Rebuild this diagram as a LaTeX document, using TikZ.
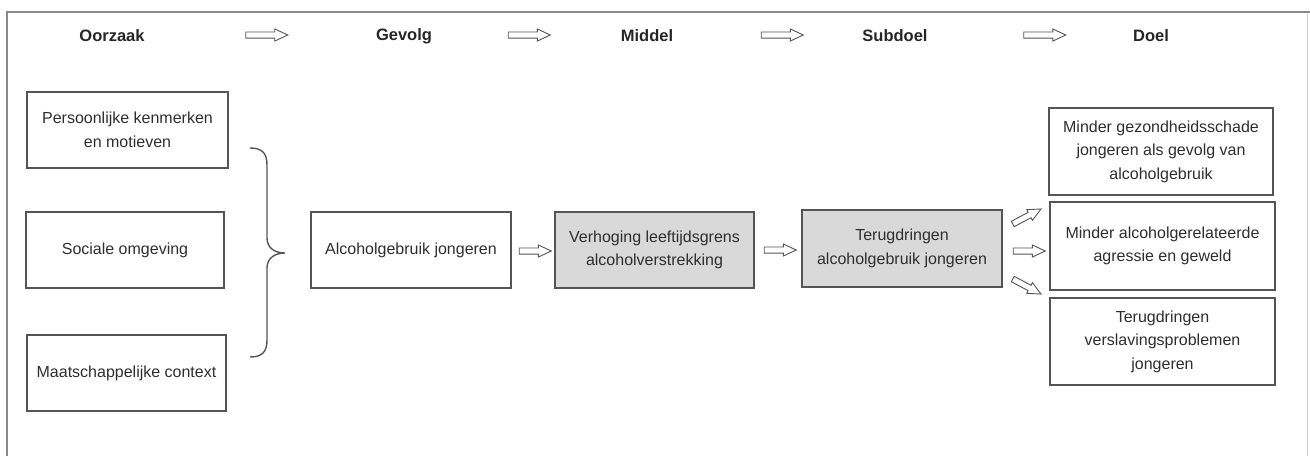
\documentclass[tikz,border=0pt]{standalone}
\usepackage{fontspec}
\setmainfont{Liberation Sans}
\usetikzlibrary{shapes.arrows}
\definecolor{edgec}{HTML}{555555}
\definecolor{fillg}{HTML}{D9D9D9}
\definecolor{txtc}{HTML}{2E2E2E}
\definecolor{framec}{HTML}{8A8A8A}
\tikzset{
  box/.style={draw=edgec, line width=1.4pt, inner sep=0pt, align=center, text=txtc,
    font=\fontsize{16}{23.5}\selectfont},
  graybox/.style={box, fill=fillg},
  header/.style={font=\bfseries\fontsize{16.5}{20}\selectfont, text=black!85, inner sep=0pt},
  blockarrow/.style={single arrow, draw=edgec, fill=white, line width=0.9pt,
    text height=0pt, text depth=0pt, inner xsep=0pt, inner ysep=2.6pt,
    minimum height=#1, single arrow head extend=3pt,
    single arrow tip angle=50},
  blockarrow/.default=42pt,
  bracec/.style={draw=edgec, line width=1.4pt},
}
\begin{document}
\begin{tikzpicture}[x=1pt,y=-1pt]
\useasboundingbox (0,0) rectangle (1310,456);
% frame
\draw[framec, line width=1.6pt] (7,456) -- (7,12) -- (1310,12);
\draw[framec!40, line width=1pt] (1307,13) -- (1307,456);

% headers
\node[header] (hOorzaak) at (112,36) {Oorzaak};
\node[header] (hGevolg)  at (404,36) {Gevolg};
\node[header] (hMiddel)  at (647,36) {Middel};
\node[header] (hSubdoel) at (895,36) {Subdoel};
\node[header] (hDoel)    at (1151,36) {Doel};
\node[blockarrow] (ha1) at (263.5,35) {};
\node[blockarrow] (ha2) at (526,35) {};
\node[blockarrow] (ha3) at (779,35) {};
\node[blockarrow] (ha4) at (1041.5,35) {};

% causes
\node[box, minimum width=201pt, minimum height=76pt] (p1) at (127.5,130)
  {Persoonlijke kenmerken\\en motieven};
\node[box, minimum width=198pt, minimum height=76pt] (p2) at (125,250)
  {Sociale omgeving};
\node[box, minimum width=199pt, minimum height=76pt] (p3) at (126.5,373)
  {Maatschappelijke context};

% brace
\coordinate (bTop) at (250,148);
\coordinate (bTip) at (285,253);
\coordinate (bBot) at (250,357);
\draw[bracec] (bTop) .. controls (262,148) and (267,153) .. (267,165) -- (267,238)
  .. controls (267,248) and (275,253) .. (bTip)
  .. controls (275,253) and (267,258) .. (267,268) -- (267,340)
  .. controls (267,352) and (262,357) .. (bBot);

% chain
\node[box, minimum width=200pt, minimum height=76pt] (alc) at (411,250)
  {Alcoholgebruik jongeren};
\node[graybox, minimum width=199pt, minimum height=76pt] (verh) at (654.5,250)
  {Verhoging leeftijdsgrens\\alcoholverstrekking};
\node[graybox, minimum width=200pt, minimum height=77pt] (terug) at (902,248.5)
  {Terugdringen\\alcoholgebruik jongeren};

\node[blockarrow=32pt] (a1) at (532,251) {};
\node[blockarrow=32pt] (a2) at (777,250) {};

% goals
\node[box, minimum width=224pt, minimum height=87pt] (g1) at (1161,151.5)
  {Minder gezondheidsschade\\jongeren als gevolg van\\alcoholgebruik};
\node[box, minimum width=225pt, minimum height=88pt] (g2) at (1162.5,246)
  {Minder alcoholgerelateerde\\agressie en geweld};
\node[box, minimum width=225pt, minimum height=87pt] (g3) at (1162.5,341.5)
  {Terugdringen\\verslavingsproblemen\\jongeren};

\node[blockarrow=32pt, rotate=28] (b1) at (1024,218) {};
\node[blockarrow=32pt] (b2) at (1026,251) {};
\node[blockarrow=32pt, rotate=-28] (b3) at (1024,285) {};
\end{tikzpicture}
\end{document}
